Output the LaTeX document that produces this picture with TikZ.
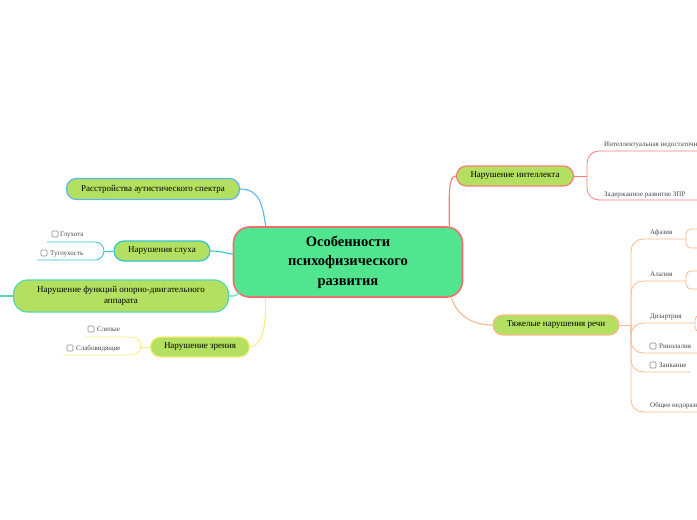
\documentclass[tikz,border=0pt]{standalone}
\usepackage{fontspec}
\setmainfont{Liberation Serif}
\usetikzlibrary{calc}

\definecolor{rootfill}{HTML}{52E590}
\definecolor{rootline}{HTML}{F26D6D}
\definecolor{leaf}{HTML}{B4E061}
\definecolor{cblue}{HTML}{5BB4F0}
\definecolor{ccyan}{HTML}{2EC4D3}
\definecolor{cteal}{HTML}{55D9B0}
\definecolor{cyellow}{HTML}{F7EC7E}
\definecolor{csalmon}{HTML}{F77E78}
\definecolor{cpeach}{HTML}{FBB98A}
\definecolor{boxgray}{HTML}{8A8A8A}
\definecolor{subtext}{HTML}{444444}

\begin{document}
\begin{tikzpicture}[x=1pt,y=-1pt,
    topic/.style={draw,rounded corners=10pt,fill=leaf,line width=1.2pt,
      minimum height=21pt,inner sep=0pt,align=center,text=black,
      font=\fontsize{9}{11}\selectfont},
    sub/.style={anchor=base west,inner sep=0pt,text=subtext,
      font=\fontsize{7}{8}\selectfont},
    cbox/.style={draw=boxgray,rounded corners=1pt,minimum size=6pt,
      inner sep=0pt,line width=0.6pt},
    link/.style={line width=1.1pt},
    twig/.style={line width=0.8pt}]

  \path[use as bounding box] (0,0) rectangle (697,520);
  \clip (0,0) rectangle (697,520);

  % centre
  \node[draw=rootline,fill=rootfill,line width=1.6pt,rounded corners=16pt,
    minimum width=229pt,minimum height=70pt,align=center,
    font=\fontsize{14.5}{19.5}\selectfont\bfseries] (root) at (348,262)
    {Особенности\\психофизического\\развития};

  % main topics
  \begin{scope}[every node/.style={topic}]
    \node[draw=cblue,minimum width=173pt] (autism) at (153,189) {Расстройства аутистического спектра};
    \node[draw=ccyan,minimum width=96pt,minimum height=20pt] (hearing) at (162,251) {Нарушения слуха};
    \node[draw=cteal,minimum width=215pt,minimum height=32pt,rounded corners=14pt] (motor) at (121,296)
      {Нарушение функций опорно-двигательного\\аппарата};
    \node[draw=cyellow,minimum width=99pt,minimum height=20pt] (vision) at (200,347) {Нарушение зрения};
    \node[draw=csalmon,minimum width=117pt,minimum height=20pt] (intellect) at (515,176) {Нарушение интеллекта};
    \node[draw=cpeach,minimum width=126pt,minimum height=20pt] (speech) at (556,325) {Тяжелые нарушения речи};
  \end{scope}

  % links to the centre
  \draw[link,cblue] (autism.east) .. controls +(20,0) and +(-3,-20) .. ($(root.north west)+(33,0)$);
  \draw[link,ccyan] (hearing.east) .. controls +(12,0) and +(-10,-1) .. ($(root.west)+(0,-8)$);
  \draw[link,cteal] (motor.east) .. controls +(6,0) and +(-5,5) .. ($(root.south west)+(7,-6)$);
  \draw[link,cyellow] (vision.east) .. controls +(14,-2) and +(0,25) .. ($(root.south west)+(33,0)$);
  \draw[link,csalmon] ($(root.north east)+(-14,0)$) .. controls +(0,-30) and +(-8,0) .. (intellect.west);
  \draw[link,cpeach] ($(root.south east)+(-12,0)$) .. controls +(6,18) and +(-20,0) .. (speech.west);

  % joints
  \coordinate (hearj) at (104,251);
  \coordinate (visj) at (141,347);
  \coordinate (intj) at (587,176);
  \coordinate (speechj) at (631,325);
  \coordinate (motorout) at (0,296);

  % hearing
  \draw[twig,ccyan] (hearing.west) -- (hearj);
  \draw[twig,ccyan,rounded corners=9pt] (47,242) -- (104,242) -- (104,260) -- (37,260);
  \node[cbox] (deafbox) at (55,234) {};
  \node[sub] (deaf) at (60,236.5) {Глухота};
  \node[cbox] (hardbox) at (44,253) {};
  \node[sub] (hard) at (50,255.5) {Тугоухость};

  % motor
  \draw[link,cteal] (motor.west) -- (motorout);

  % vision
  \draw[twig,cyellow] (vision.west) -- (visj);
  \draw[twig,cyellow,rounded corners=9pt] (85,337) -- (141,337) -- (141,355) -- (63,355);
  \node[cbox] (blindbox) at (91,329) {};
  \node[sub] (blind) at (97,331.5) {Слепые};
  \node[cbox] (lowbox) at (70,348) {};
  \node[sub] (low) at (76,350.5) {Слабовидящие};

  % intellect
  \draw[twig,csalmon] (intellect.east) -- (intj);
  \draw[twig,csalmon,rounded corners=12pt] (697,151) -- (587,151) -- (587,200) -- (697,200);
  \node[sub] (intdef) at (604,146) {Интеллектуальная недостаточность};
  \node[sub] (zpr) at (604,196) {Задержанное развитие ЗПР};

  % speech
  \draw[twig,cpeach] (speech.east) -- (speechj);
  \begin{scope}[twig,cpeach,rounded corners=12pt]
    \draw (speechj) |- (686,239);
    \draw (speechj) |- (686,281);
    \draw (speechj) |- (695,323);
    \draw (speechj) |- (697,353);
    \draw (speechj) |- (691,372);
    \draw (speechj) |- (697,412);
  \end{scope}
  \begin{scope}[twig,cpeach,rounded corners=5pt]
    \draw (699,229) -- (686,229) -- (686,248) -- (699,248);
    \draw (699,271) -- (686,271) -- (686,289) -- (699,289);
    \draw (699,315) -- (695,315) -- (695,332) -- (699,332);
  \end{scope}
  \node[sub] (aphasia) at (650,234) {Афазия};
  \node[sub] (alalia) at (650,276) {Алалия};
  \node[sub] (dysarthria) at (650,318) {Дизартрия};
  \node[cbox] (rhinobox) at (653,346) {};
  \node[sub] (rhino) at (659,348.5) {Ринолалия};
  \node[cbox] (stutbox) at (653,365) {};
  \node[sub] (stutter) at (659,367.5) {Заикание};
  \node[sub] (ond) at (650,407) {Общее недоразвитие речи};

\end{tikzpicture}
\end{document}
